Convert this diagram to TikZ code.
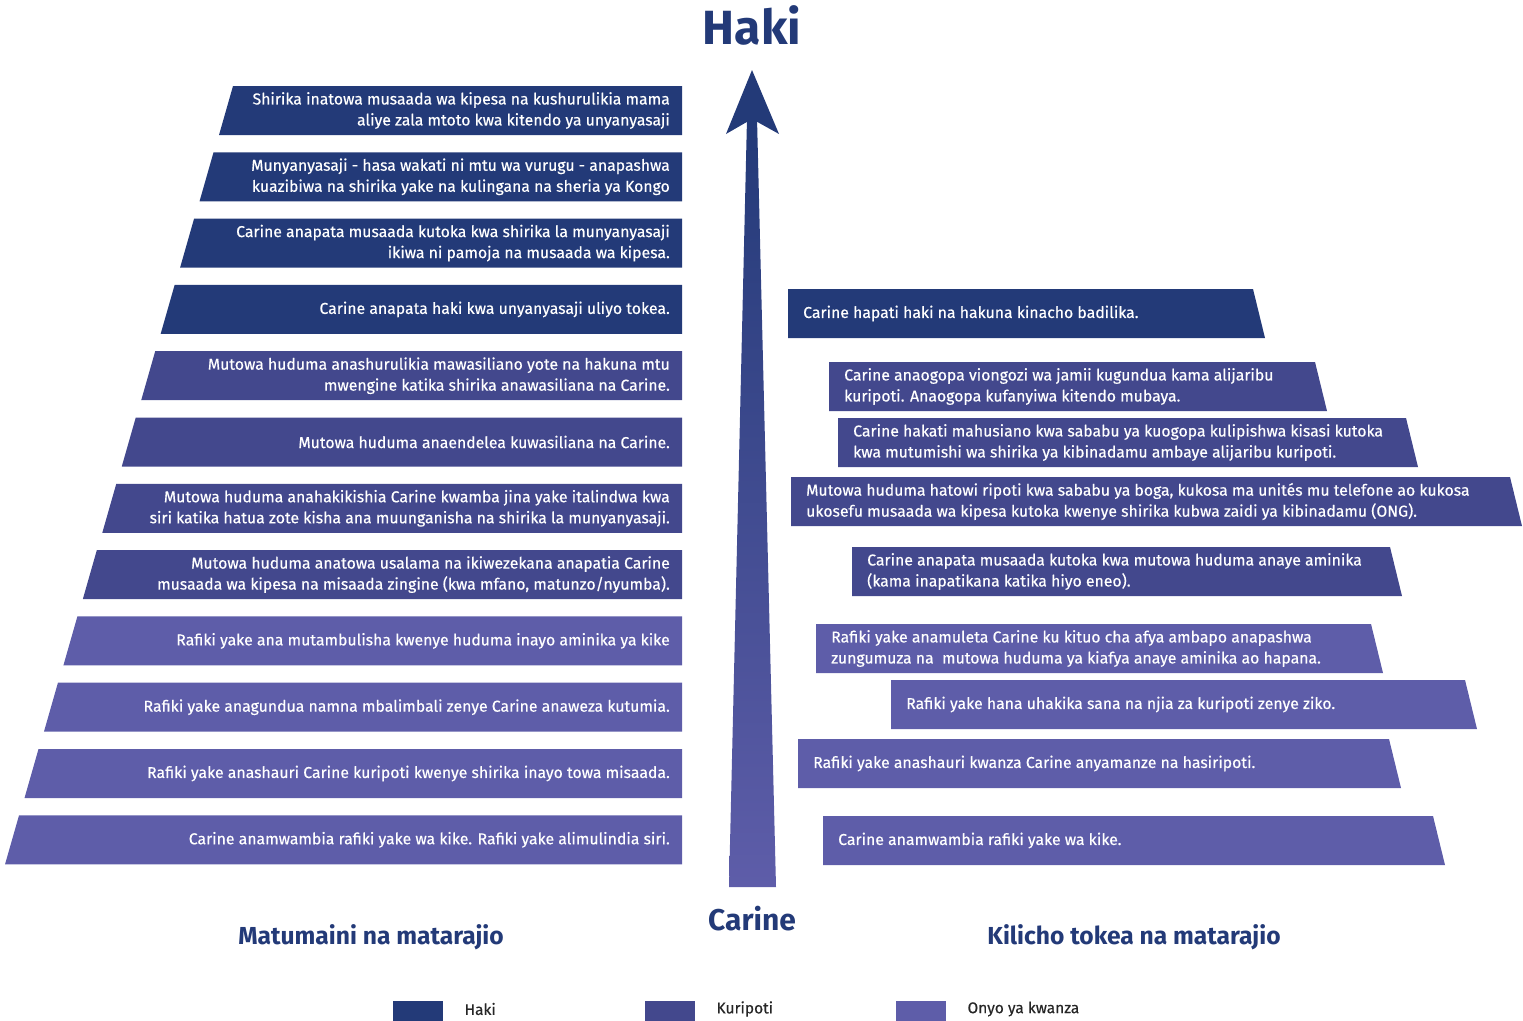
\documentclass[tikz,border=0pt]{standalone}
\usepackage{fontspec}
\setmainfont{Fira Sans}
\newfontfamily\boxfont{Fira Sans}[FakeBold=0.35]
\usetikzlibrary{positioning,calc}
\definecolor{haki}{RGB}{35,58,120}
\definecolor{kuripoti}{RGB}{67,72,141}
\definecolor{onyo}{RGB}{94,93,169}
\tikzset{
  boxtext/.style={text=white, font=\boxfont\fontsize{15.8}{21}\selectfont, inner sep=0pt},
  heading/.style={text=haki, font=\bfseries\fontsize{24.6}{28}\selectfont},
  legendtext/.style={text=black!85, font=\boxfont\fontsize{15.5}{17}\selectfont, anchor=west}
}
\begin{document}
\begin{tikzpicture}[x=1pt,y=-1pt]
\useasboundingbox (0,0) rectangle (1523,1020);
% Left column: hopes and expectations
\foreach \i/\c/\t in {
  0/haki/{Shirika inatowa musaada wa kipesa na kushurulikia mama\\aliye zala mtoto kwa kitendo ya unyanyasaji},
  1/haki/{Munyanyasaji - hasa wakati ni mtu wa vurugu - anapashwa\\kuazibiwa na shirika yake na kulingana na sheria ya Kongo},
  2/haki/{Carine anapata musaada kutoka kwa shirika la munyanyasaji\\ikiwa ni pamoja na musaada wa kipesa.},
  3/haki/{Carine anapata haki kwa unyanyasaji uliyo tokea.},
  4/kuripoti/{Mutowa huduma anashurulikia mawasiliano yote na hakuna mtu\\mwengine katika shirika anawasiliana na Carine.},
  5/kuripoti/{Mutowa huduma anaendelea kuwasiliana na Carine.},
  6/kuripoti/{Mutowa huduma anahakikishia Carine kwamba jina yake italindwa kwa\\siri katika hatua zote kisha ana muunganisha na shirika la munyanyasaji.},
  7/kuripoti/{Mutowa huduma anatowa usalama na ikiwezekana anapatia Carine\\musaada wa kipesa na misaada zingine (kwa mfano, matunzo/nyumba).},
  8/onyo/{Rafiki yake ana mutambulisha kwenye huduma inayo aminika ya kike},
  9/onyo/{Rafiki yake anagundua namna mbalimbali zenye Carine anaweza kutumia.},
  10/onyo/{Rafiki yake anashauri Carine kuripoti kwenye shirika inayo towa misaada.},
  11/onyo/{Carine anamwambia rafiki yake wa kike. Rafiki yake alimulindia siri.}} {
  \pgfmathsetmacro{\yt}{86+66.3*\i}
  \pgfmathsetmacro{\xl}{233-19.45*\i}
  \fill[\c] (\xl,\yt) -- (682,\yt) -- (682,\yt+49) -- (\xl-14,\yt+49) -- cycle;
  \node[boxtext, anchor=east, align=right] (l\i) at (670,\yt+24.5) {\t};
}
% Right column: what happened
\foreach \n/\xa/\yt/\xb/\c/\t in {
  1/788/289/1253/haki/{Carine hapati haki na hakuna kinacho badilika.},
  2/829/362/1315/kuripoti/{Carine anaogopa viongozi wa jamii kugundua kama alijaribu\\kuripoti. Anaogopa kufanyiwa kitendo mubaya.},
  3/838/418/1406/kuripoti/{Carine hakati mahusiano kwa sababu ya kuogopa kulipishwa kisasi kutoka\\kwa mutumishi wa shirika ya kibinadamu ambaye alijaribu kuripoti.},
  4/791/477/1510/kuripoti/{Mutowa huduma hatowi ripoti kwa sababu ya boga, kukosa ma unités mu telefone ao kukosa\\ukosefu musaada wa kipesa kutoka kwenye shirika kubwa zaidi ya kibinadamu (ONG).},
  5/852/547/1390/kuripoti/{Carine anapata musaada kutoka kwa mutowa huduma anaye aminika\\(kama inapatikana katika hiyo eneo).},
  6/816/624/1371/onyo/{Rafiki yake anamuleta Carine ku kituo cha afya ambapo anapashwa\\zungumuza na \ mutowa huduma ya kiafya anaye aminika ao hapana.},
  7/891/680/1465/onyo/{Rafiki yake hana uhakika sana na njia za kuripoti zenye ziko.},
  8/798/739/1389/onyo/{Rafiki yake anashauri kwanza Carine anyamanze na hasiripoti.},
  9/823/816/1433/onyo/{Carine anamwambia rafiki yake wa kike.}} {
  \fill[\c] (\xa,\yt) -- (\xb,\yt) -- (\xb+12,\yt+49) -- (\xa,\yt+49) -- cycle;
  \node[boxtext, anchor=west, align=left] (r\n) at (\xa+15,\yt+24.5) {\t};
}
% Central arrow from Carine up to Haki
\shade[top color=haki, bottom color=onyo] (747,118) -- (757,118) -- (776,887) -- (729,887) -- cycle;
\fill[haki] (752,70) -- (779,134) -- (752,119) -- (726,134) -- cycle;
\node[text=haki, font=\bfseries\fontsize{48}{52}\selectfont] (haki) at (752,25) {Haki};
\node[text=haki, font=\bfseries\fontsize{30}{34}\selectfont] (carine) at (752,919) {Carine};
% Column headings
\node[heading] (matumaini) at (371,937) {Matumaini na matarajio};
\node[heading] (kilicho) at (1134,937) {Kilicho tokea na matarajio};
% Legend
\foreach \x/\c/\t in {393/haki/Haki, 645/kuripoti/Kuripoti, 896/onyo/Onyo ya kwanza} {
  \fill[\c] (\x,1001) rectangle (\x+50,1022);
  \node[legendtext] (leg\c) at (\x+68,1009) {\t};
}
\end{tikzpicture}
\end{document}
